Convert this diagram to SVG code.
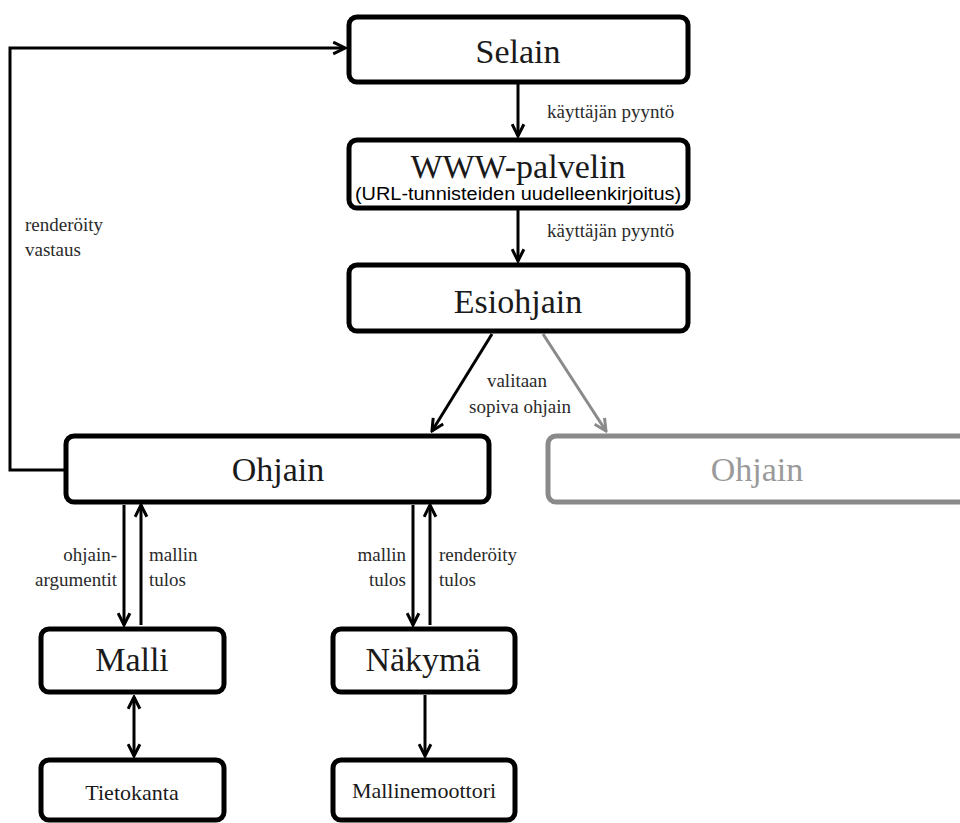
<svg xmlns="http://www.w3.org/2000/svg" width="960" height="823" viewBox="0 0 960 823">
  <defs>
    <style>
      .box { fill: #fff; stroke: #000; stroke-width: 5; }
      .box-gray { fill: #fff; stroke: #8a8a8a; stroke-width: 5; }
      .title { font-family: "Liberation Serif", "Times New Roman", serif; font-size: 34px; fill: #1a1a1a; text-anchor: middle; }
      .title-gray { font-family: "Liberation Serif", "Times New Roman", serif; font-size: 34px; fill: #9a9a9a; text-anchor: middle; }
      .small { font-family: "Liberation Serif", "Times New Roman", serif; font-size: 22px; fill: #1a1a1a; text-anchor: middle; }
      .sub { font-family: "Liberation Sans", Arial, sans-serif; font-size: 18px; fill: #000; text-anchor: middle; }
      .lbl { font-family: "Liberation Serif", "Times New Roman", serif; font-size: 19px; fill: #2a2a2a; }
      .lbl-r { font-family: "Liberation Serif", "Times New Roman", serif; font-size: 19px; fill: #2a2a2a; text-anchor: end; }
      .lbl-c { font-family: "Liberation Serif", "Times New Roman", serif; font-size: 19px; fill: #2a2a2a; text-anchor: middle; }
      .edge { fill: none; stroke: #000; stroke-width: 3; }
      .edge-gray { fill: none; stroke: #8a8a8a; stroke-width: 3; }
    </style>
    <marker id="head" viewBox="0 0 14 14" refX="12.5" refY="7" markerWidth="15" markerHeight="15" markerUnits="userSpaceOnUse" orient="auto-start-reverse">
      <path d="M1.5,1.5 L12.5,7 L1.5,12.5" fill="none" stroke="#000" stroke-width="2.8"/>
    </marker>
    <marker id="head-gray" viewBox="0 0 14 14" refX="12.5" refY="7" markerWidth="15" markerHeight="15" markerUnits="userSpaceOnUse" orient="auto">
      <path d="M1.5,1.5 L12.5,7 L1.5,12.5" fill="none" stroke="#8a8a8a" stroke-width="2.8"/>
    </marker>
  </defs>

  <rect width="960" height="823" fill="#fff"/>

  <!-- connectors and their labels -->
  <g id="connectors">
    <line class="edge" x1="518" y1="83" x2="518" y2="136" marker-end="url(#head)"/>
    <line class="edge" x1="518" y1="210" x2="518" y2="261" marker-end="url(#head)"/>
    <line class="edge" x1="492" y1="334" x2="432" y2="431" marker-end="url(#head)"/>
    <line class="edge-gray" x1="543" y1="334" x2="606" y2="431" marker-end="url(#head-gray)"/>
    <polyline class="edge" points="64,470 10,470 10,48 345,48" marker-end="url(#head)"/>
    <line class="edge" x1="124" y1="505" x2="124" y2="625" marker-end="url(#head)"/>
    <line class="edge" x1="141" y1="625" x2="141" y2="505" marker-end="url(#head)"/>
    <line class="edge" x1="413" y1="505" x2="413" y2="625" marker-end="url(#head)"/>
    <line class="edge" x1="430" y1="625" x2="430" y2="505" marker-end="url(#head)"/>
    <line class="edge" x1="134" y1="697" x2="134" y2="756" marker-start="url(#head)" marker-end="url(#head)"/>
    <line class="edge" x1="425" y1="695" x2="425" y2="756" marker-end="url(#head)"/>

    <text class="lbl" x="547" y="118">käyttäjän pyyntö</text>
    <text class="lbl" x="547" y="237">käyttäjän pyyntö</text>
    <text class="lbl-c" x="517" y="387">valitaan</text>
    <text class="lbl-c" x="520" y="413">sopiva ohjain</text>
    <text class="lbl" x="25" y="231">renderöity</text>
    <text class="lbl" x="25" y="256">vastaus</text>
    <text class="lbl-r" x="117" y="561">ohjain-</text>
    <text class="lbl-r" x="117" y="586">argumentit</text>
    <text class="lbl" x="149" y="561">mallin</text>
    <text class="lbl" x="149" y="586">tulos</text>
    <text class="lbl-r" x="406" y="561">mallin</text>
    <text class="lbl-r" x="406" y="586">tulos</text>
    <text class="lbl" x="439" y="561">renderöity</text>
    <text class="lbl" x="439" y="586">tulos</text>
  </g>

  <g id="selain">
    <rect class="box" x="349" y="17" width="339" height="65" rx="8"/>
    <text class="title" x="518" y="63">Selain</text>
  </g>

  <g id="www-palvelin">
    <rect class="box" x="349" y="140" width="339" height="68" rx="8"/>
    <text class="title" x="518" y="178">WWW-palvelin</text>
    <text class="sub" x="518" y="200" textLength="326" lengthAdjust="spacingAndGlyphs">(URL-tunnisteiden uudelleenkirjoitus)</text>
  </g>

  <g id="esiohjain">
    <rect class="box" x="349" y="265" width="339" height="66" rx="8"/>
    <text class="title" x="518" y="313">Esiohjain</text>
  </g>

  <g id="ohjain">
    <rect class="box" x="66" y="436" width="423" height="66" rx="8"/>
    <text class="title" x="278" y="481">Ohjain</text>
  </g>

  <g id="ohjain-muu">
    <rect class="box-gray" x="548" y="436" width="430" height="66" rx="8"/>
    <text class="title-gray" x="757" y="481">Ohjain</text>
  </g>

  <g id="malli">
    <rect class="box" x="41" y="629" width="183" height="63" rx="8"/>
    <text class="title" x="132" y="671">Malli</text>
  </g>

  <g id="nakyma">
    <rect class="box" x="333" y="629" width="182" height="63" rx="8"/>
    <text class="title" x="423" y="671">Näkymä</text>
  </g>

  <g id="tietokanta">
    <rect class="box" x="41" y="760" width="183" height="60" rx="8"/>
    <text class="small" x="132" y="800">Tietokanta</text>
  </g>

  <g id="mallinemoottori">
    <rect class="box" x="333" y="760" width="182" height="60" rx="8"/>
    <text class="small" x="424" y="798">Mallinemoottori</text>
  </g>
</svg>
